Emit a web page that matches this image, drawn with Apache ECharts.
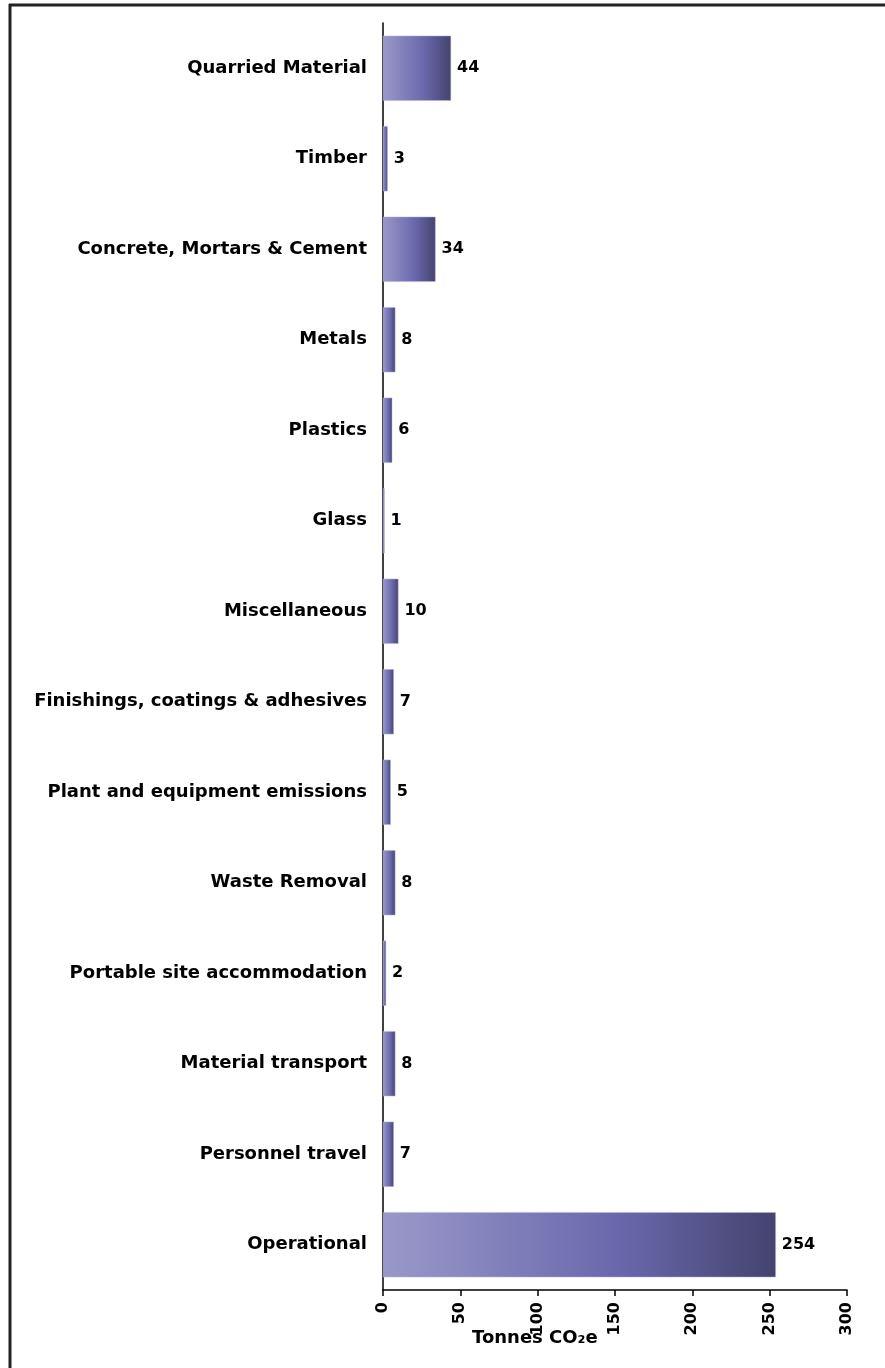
<!DOCTYPE html>
<html>
<head>
<meta charset="utf-8">
<script src="https://cdn.jsdelivr.net/npm/echarts@6/dist/echarts.min.js"></script>
<style>
  html, body { margin: 0; padding: 0; background: #fff; }
  #J_chart { width: 885px; height: 1368px; }
</style>
</head>
<body>
<div id="J_chart"></div>
<script>
'use strict';

var categories = [
  'Quarried Material',
  'Timber',
  'Concrete, Mortars & Cement',
  'Metals',
  'Plastics',
  'Glass',
  'Miscellaneous',
  'Finishings, coatings & adhesives',
  'Plant and equipment emissions',
  'Waste Removal',
  'Portable site accommodation',
  'Material transport',
  'Personnel travel',
  'Operational'
];
var values = [44, 3, 34, 8, 6, 1, 10, 7, 5, 8, 2, 8, 7, 254];
var xTicks = [0, 50, 100, 150, 200, 250, 300];

var _font = 'DejaVu Sans';
var _barGrad = new echarts.graphic.LinearGradient(0, 0, 1, 0, [
  {offset: 0, color: '#9a98c9'},
  {offset: 0.6, color: '#6a68ac'},
  {offset: 1, color: '#45436e'}
]);

var chart = echarts.init(document.getElementById('J_chart'));
var option = {
  animation: false,
  backgroundColor: '#fff',
  grid: {left: 383, right: 38, top: 23, bottom: 78, containLabel: false},
  xAxis: {
    type: 'value',
    min: xTicks[0],
    max: xTicks[xTicks.length - 1],
    interval: 50,
    splitLine: {show: false},
    axisLine: {show: true, lineStyle: {color: '#000', width: 1.5}},
    axisTick: {show: true, length: 6, lineStyle: {color: '#000', width: 1.5}},
    axisLabel: {
      rotate: 90,
      margin: 12,
      color: '#000',
      fontFamily: _font,
      fontWeight: 'bold',
      fontSize: 16
    }
  },
  yAxis: {
    type: 'category',
    inverse: true,
    data: categories,
    axisLine: {show: true, lineStyle: {color: '#000', width: 1.5}},
    axisTick: {show: false},
    axisLabel: {
      margin: 16,
      color: '#000',
      fontFamily: _font,
      fontWeight: 'bold',
      fontSize: 18
    }
  },
  series: [{
    type: 'bar',
    data: values,
    barCategoryGap: '28%',
    itemStyle: {color: _barGrad, borderColor: '#b9b7e0', borderWidth: 0.5},
    label: {
      show: true,
      position: 'right',
      distance: 6,
      color: '#000',
      fontFamily: _font,
      fontWeight: 'bold',
      fontSize: 16
    }
  }],
  graphic: [
    {type: 'line', shape: {x1: 9, y1: 5, x2: 885, y2: 5}, style: {stroke: '#222', lineWidth: 3}},
    {type: 'line', shape: {x1: 10, y1: 4, x2: 10, y2: 1368}, style: {stroke: '#222', lineWidth: 3}},
    {
      type: 'text',
      left: 472,
      top: 1329,
      style: {
        text: 'Tonnes CO₂e',
        fill: '#000',
        font: 'bold 18px "DejaVu Sans"'
      }
    }
  ]
};
chart.setOption(option);
</script>
</body>
</html>
